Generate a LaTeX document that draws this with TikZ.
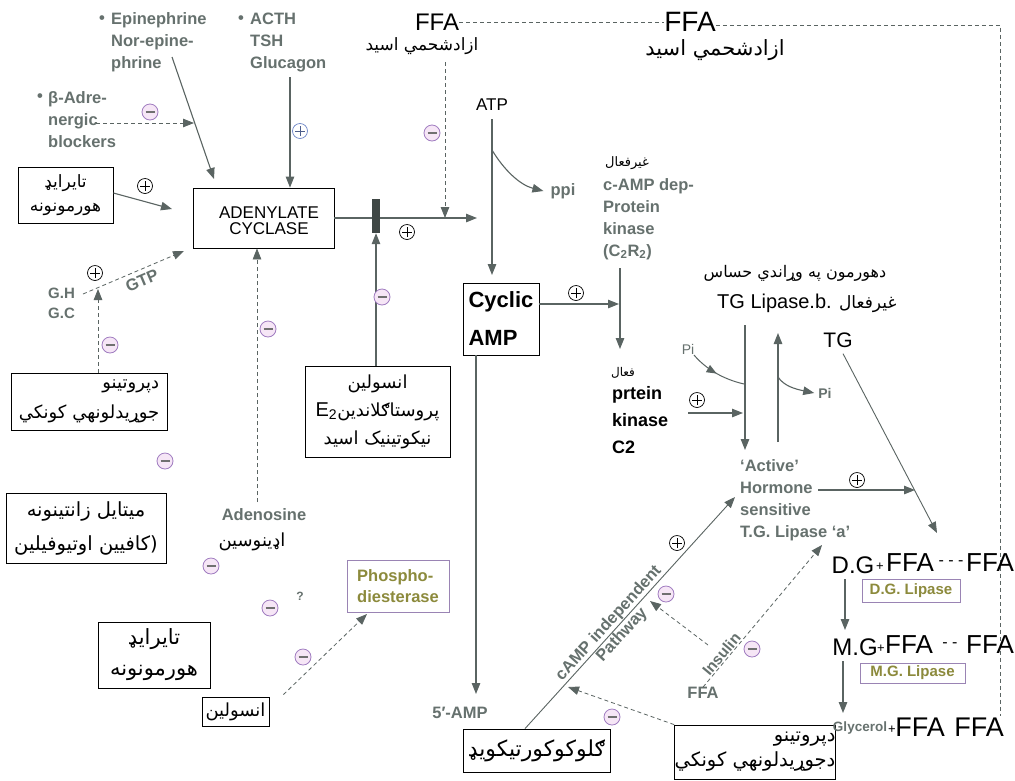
\documentclass[tikz,border=0pt]{standalone}
\usepackage{fontspec}
\setmainfont{Liberation Sans}
\newfontfamily\arabicfont[Script=Arabic]{DejaVu Sans}
\TeXXeTstate=1
\usetikzlibrary{arrows.meta,calc,decorations.markings}
\definecolor{lineg}{HTML}{5A6462}
\definecolor{txtg}{HTML}{66716E}
\definecolor{olive}{HTML}{8C8A3C}
\definecolor{pbox}{HTML}{9A84B4}
\definecolor{minusf}{HTML}{F6E6F6}
\definecolor{minusd}{HTML}{A07CC0}
\definecolor{minust}{HTML}{707070}
\definecolor{barc}{HTML}{3F4745}
\definecolor{plusb}{HTML}{6E86C8}
\newcommand{\RL}[1]{\beginR #1\endR}
\newcommand{\fsz}[2]{\fontsize{#1}{#2}\selectfont}
\tikzset{
 gl/.style={font=\bfseries\fsz{16.5}{22}, text=txtg, align=left, inner sep=0pt},
 bk/.style={font=\fsz{18}{22}, text=black, inner sep=0pt},
 ar/.style={font=\arabicfont\fsz{16}{22}, text=black, inner sep=0pt, align=center},
 abox/.style={draw=black, line width=0.8pt, inner sep=0pt, align=center, font=\arabicfont\fsz{17}{25}},
 pboxs/.style={draw=pbox, line width=0.8pt, inner sep=0pt, text=olive, align=left},
 arr/.style={draw=lineg, color=lineg, line width=1.1pt, -{Triangle[length=11pt,width=8.5pt]}},
 darr/.style={arr, line width=0.8pt, dash pattern=on 4pt off 3pt},
 dline/.style={draw=lineg, line width=0.8pt, dash pattern=on 4pt off 3pt},
 mc/.style={circle, draw=minusd, fill=minusf, line width=0.8pt, minimum size=16pt, inner sep=0pt,
   path picture={\draw[minust, line width=1.2pt] ([xshift=-4.5pt]path picture bounding box.center) -- ([xshift=4.5pt]path picture bounding box.center);}},
 pc/.style={circle, draw=black, fill=white, line width=0.7pt, minimum size=15pt, inner sep=0pt,
   path picture={\draw[black, line width=0.8pt] ([xshift=-5pt]path picture bounding box.center) -- ([xshift=5pt]path picture bounding box.center) ([yshift=-5pt]path picture bounding box.center) -- ([yshift=5pt]path picture bounding box.center);}},
 pcb/.style={pc, draw=plusb, path picture={\draw[plusb!70!black, line width=0.8pt] ([xshift=-5pt]path picture bounding box.center) -- ([xshift=5pt]path picture bounding box.center) ([yshift=-5pt]path picture bounding box.center) -- ([yshift=5pt]path picture bounding box.center);}},
}
\begin{document}
\begin{tikzpicture}[x=1pt,y=-1pt]
\useasboundingbox (0,0) rectangle (1015,780);
\fill[white] (0,0) rectangle (1015,780);

% ---------- top-left labels
\node[gl] (bu1) at (102,20) {•};
\node[gl,anchor=west] (epi) at (111,42) {Epinephrine\\Nor-epine-\\phrine};
\node[gl] (bu2) at (241,20) {•};
\node[gl,anchor=west] (acth) at (250,42) {ACTH\\TSH\\Glucagon};
\node[gl] (bu3) at (40,98) {•};
\node[gl,anchor=west] (beta) at (48,120) {β-Adre-\\nergic\\blockers};

% ---------- boxes
\node[abox, minimum width=95pt, minimum height=56pt, font=\arabicfont\fsz{17}{24}] (thy1) at (65.5,195) {\RL{تايرايډ}\\\RL{هورمونونه}};
\node[draw=black, line width=0.8pt, minimum width=141pt, minimum height=60pt] (ad) at (263.5,218) {};
\node[font=\fsz{17}{16}, align=center, inner sep=0pt] (adt) at (269,221) {ADENYLATE\\CYCLASE};
\node[abox, align=right, minimum width=156pt, minimum height=57pt, font=\arabicfont\fsz{18}{30}] (prot1) at (89,401.5) {\RL{دپروتينو}\\\RL{جوړيدلونهي کونکي}};
\node[abox, minimum width=160pt, minimum height=70pt, font=\arabicfont\fsz{19.5}{34}] (meth) at (86,528) {\RL{ميتايل زانتينونه}\\\RL{(کافيين اوتيوفيلين}};
\node[abox, minimum width=145pt, minimum height=91pt, font=\arabicfont\fsz{18}{28}] (e2box) at (377.5,411.5) {\RL{انسولين}\\{\normalfont\fsz{20}{20}E\textsubscript{2}}\RL{پروستاګلاندين}\\\RL{نيکوتينيک اسيد}};
\node[draw=black, line width=0.8pt, minimum width=76pt, minimum height=72pt, align=left, inner sep=1pt, font=\bfseries\fsz{22}{38}] (cyc) at (501,319) {Cyclic\\AMP};
\node[pboxs, minimum width=102pt, minimum height=52pt, font=\bfseries\fsz{16.5}{21}] (phos) at (398,586) {Phospho-\\diesterase};
\node[abox, minimum width=112pt, minimum height=66pt, font=\arabicfont\fsz{21}{31}] (thy2) at (154,655) {\RL{تايرايډ}\\\RL{هورمونونه}};
\node[abox, minimum width=67pt, minimum height=29pt, font=\arabicfont\fsz{18}{20}] (ins2) at (235.5,711.5) {\RL{انسولين}};
\node[abox, minimum width=147pt, minimum height=43pt, font=\arabicfont\fsz{22}{24}] (glu) at (536.5,750.5) {\RL{ګلوکوکورتيکويډ}};
\node[abox, align=right, minimum width=160pt, minimum height=54pt, font=\arabicfont\fsz{19.5}{25}] (dep2) at (755,752) {\RL{دپروتينو}\\\RL{دجوړيدلونهي کونکي}};
\node[pboxs, minimum width=98pt, minimum height=23pt, font=\bfseries\fsz{15}{15}] (dgl) at (911,590.5) {D.G. Lipase};
\node[pboxs, minimum width=105pt, minimum height=20pt, font=\bfseries\fsz{15}{15}] (mgl) at (912.5,673) {M.G. Lipase};

% ---------- FFA top
\node[bk, font=\fsz{24}{24}] (ffa1) at (437,22) {FFA};
\node[ar, font=\arabicfont\fsz{17}{20}] (ffa1a) at (422,46) {\RL{ازادشحمي اسيد}};
\node[bk, font=\fsz{28}{28}] (ffa2) at (690,22) {FFA};
\node[ar, font=\arabicfont\fsz{21}{22}] (ffa2a) at (715,50) {\RL{ازادشحمي اسيد}};
\coordinate (rc) at (1000,25);
\coordinate (rb) at (1000,716);
\draw[dline] (ffa1.east) -- (ffa2.west);
\draw[dline] (ffa2.east |- rc) -- (rc) -- (rb);
\coordinate (fd1) at (445,62);
\coordinate (fd2) at (445,218);
\draw[darr] (fd1) -- (fd2);

% ---------- arrows top-left
\coordinate (ep1) at (172,57); \coordinate (ep2) at (214,179);
\draw[arr] (ep1) -- (ep2);
\coordinate (ac1) at (290,77);
\draw[arr] (ac1) -- (ad.north -| ac1);
\coordinate (bt1) at (96,123); \coordinate (bt2) at (194,123);
\draw[darr] (bt1) -- (bt2);
\coordinate (th) at (172,209);
\draw[arr] ([yshift=2pt]thy1.east) -- (th);
\node[gl, font=\bfseries\fsz{15}{20}, anchor=west] (gh) at (48,303) {G.H\\G.C};
\coordinate (gt1) at (83,294); \coordinate (gt2) at (184,251);
\draw[darr] (gt1) -- (gt2);
\node[gl, rotate=23] (gtp) at (142,281) {GTP};
\coordinate (gu) at (98,289);
\draw[darr] (prot1.north -| gu) -- (gu);

% ---------- adenylate -> cAMP
\coordinate (h1) at (477,218);
\draw[arr] (ad.east) -- (h1);
\node[fill=barc, minimum width=8pt, minimum height=34pt, inner sep=0pt] (bar) at (376,216) {};
\draw[arr] (e2box.north -| bar.south) -- (bar.south);
\node[gl] (ado) at (264,515) {Adenosine};
\node[ar, font=\arabicfont\fsz{18}{20}] (adoa) at (252,542) {\RL{اډينوسين}};
\coordinate (adn) at (257,502);
\draw[darr] (adn) -- (ad.south -| adn);

\node[bk, font=\fsz{17}{17}] (atp) at (492,105) {ATP};
\coordinate (cyctop) at (492,275);
\draw[arr] ([yshift=-8pt]atp.south) -- (cyctop);
\node[gl] (ppi) at (563,191) {ppi};
\coordinate (ppis) at (492,150);
\draw[arr] (ppis) .. controls (504,170) and (520,185) .. ([xshift=-7pt]ppi.west);

% ---------- protein kinase
\node[ar, font=\arabicfont\fsz{13}{13}] (gf1) at (627,163) {\RL{غيرفعال}};
\node[gl,anchor=west] (ck) at (603,219) {c-AMP dep-\\Protein\\kinase\\(C\textsubscript{2}R\textsubscript{2})};
\coordinate (k1) at (620,268); \coordinate (k2) at (620,349);
\draw[arr] (k1) -- (k2);
\coordinate (kin) at (619,304);
\draw[arr] ([yshift=15pt]cyc.east) -- (kin);
\node[ar, font=\arabicfont\fsz{12}{12}] (fa) at (623,373) {\RL{فعال}};
\node[bk, font=\bfseries\fsz{18}{27}, align=left, anchor=west] (pk) at (612,420) {prtein\\kinase\\C2};

\node[gl] (amp5) at (460,713) {5′-AMP};
\coordinate (c5) at (476,694);
\draw[arr] (cyc.south -| c5) -- (c5);

% ---------- TG lipase
\node[ar, font=\arabicfont\fsz{16}{16}] (hs) at (795,273) {\RL{دهورمون په وړاندي حساس}};
\node[bk, font=\fsz{20}{20}, anchor=west] (tgl) at (717,303) {TG Lipase.b. {\arabicfont\fsz{17}{17}\RL{غيرفعال}}};
\coordinate (dn1) at (745,325); \coordinate (dn2) at (745,450);
\draw[arr] (dn1) -- (dn2);
\coordinate (up1) at (778,442); \coordinate (up2) at (778,333);
\draw[arr] (up1) -- (up2);
\node[font=\fsz{14}{14}, text=txtg, inner sep=0pt] (pi1) at (688,349) {Pi};
\coordinate (pim) at (744,384);
\draw[draw=lineg, color=lineg, line width=1pt, postaction={decorate}, decoration={markings, mark=at position 0.5 with {\arrow{Triangle[length=10pt,width=8pt]}}}] ([xshift=6pt,yshift=-6pt]pi1.center) .. controls (705,368) and (722,379) .. (pim);
\node[gl, font=\bfseries\fsz{14}{14}] (pi2) at (825,393) {Pi};
\coordinate (pis) at (778,377);
\draw[arr] (pis) .. controls (784,386) and (795,389) .. ([xshift=-4pt]pi2.west);
\coordinate (pa) at (688,413); \coordinate (pb) at (743,413);
\draw[arr] (pa) -- (pb);

\node[gl,anchor=west] (act) at (740,500) {‘Active’\\Hormone\\sensitive\\T.G. Lipase ‘a’};
\coordinate (hor) at (818,490); \coordinate (tgx) at (915,490);
\draw[arr] (hor) -- (tgx);
\node[bk, font=\fsz{21}{21}] (tg) at (838,340) {TG};
\coordinate (tge) at (937,533);
\draw[arr, line width=0.9pt] ([xshift=5pt,yshift=-6pt]tg.south) -- (tge);

% ---------- DG / MG / glycerol
\node[bk, font=\fsz{24}{24}] (dg) at (853,565) {D.G};
\node[bk, font=\fsz{13}{13}] (dgp) at (880,567) {+};
\node[bk, font=\fsz{26}{26}] (dgf) at (910,563) {FFA};
\node[bk, font=\fsz{16}{16}] (dgd) at (951,563) {- - -};
\node[bk, font=\fsz{26}{26}] (dgf2) at (990,563) {FFA};
\coordinate (a1) at (845,579); \coordinate (a2) at (845,630);
\draw[arr] (a1) -- (a2);
\node[bk, font=\fsz{24}{24}] (mg) at (855,647) {M.G};
\node[bk, font=\fsz{13}{13}] (mgp) at (881,649) {+};
\node[bk, font=\fsz{26}{26}] (mgf) at (909,645) {FFA};
\node[bk, font=\fsz{16}{16}] (mgd) at (950,645) {- -};
\node[bk, font=\fsz{26}{26}] (mgf2) at (990,645) {FFA};
\coordinate (a3) at (843,661); \coordinate (a4) at (843,713);
\draw[arr] (a3) -- (a4);
\node[gl, font=\bfseries\fsz{13.5}{14}] (gly) at (860,728) {Glycerol};
\node[bk, font=\fsz{13}{13}] (glp) at (892,730) {+};
\node[bk, font=\fsz{27}{27}] (glf1) at (920,727) {FFA};
\node[bk, font=\fsz{27}{27}] (glf2) at (979,727) {FFA};

% ---------- cAMP independent pathway
\coordinate (gp) at (525,729); \coordinate (ha) at (735,497);
\draw[arr, line width=0.9pt] (glu.north -| gp) -- (ha)
  node[pos=0.43, sloped, above=0.5pt, gl] (cip) {cAMP independent}
  node[pos=0.43, sloped, below=1pt, gl] (pw) {Pathway};
\coordinate (in1) at (708,645); \coordinate (in2) at (650,601);
\draw[darr] (in1) -- (in2);
\node[gl] (ffa3) at (703,693) {FFA};
\coordinate (tga) at (822,545);
\draw[darr] (ffa3.north) -- (tga) node[pos=0.2, sloped, above=1pt, gl, font=\bfseries\fsz{15.5}{16}] (insl) {Insulin};
\coordinate (dp) at (568,687);
\draw[darr] (dep2.north west) -- (dp);
\coordinate (ph) at (367,614);
\draw[darr] ([xshift=14pt,yshift=2pt]ins2.north east) -- (ph);
\node[gl, font=\bfseries\fsz{12}{12}] (q) at (300,596) {?};

% ---------- signs
\node[mc] (m1) at (150,112) {};
\node[mc] (m2) at (432,133) {};
\node[mc] (m3) at (110,345) {};
\node[mc] (m4) at (268,329) {};
\node[mc] (m5) at (382,297) {};
\node[mc] (m6) at (165,461) {};
\node[mc] (m7) at (211,566) {};
\node[mc] (m8) at (270,608) {};
\node[mc] (m9) at (303,657) {};
\node[mc] (m10) at (666,594) {};
\node[mc] (m11) at (752,649) {};
\node[mc] (m12) at (612,717) {};
\node[pc] (p1) at (145,186) {};
\node[pc] (p2) at (95,273) {};
\node[pc] (p3) at (407,232) {};
\node[pc] (p4) at (576,293) {};
\node[pc] (p5) at (697,400) {};
\node[pc] (p6) at (857,480) {};
\node[pc] (p7) at (677,543) {};
\node[pcb] (p8) at (300,131) {};
\end{tikzpicture}
\end{document}
